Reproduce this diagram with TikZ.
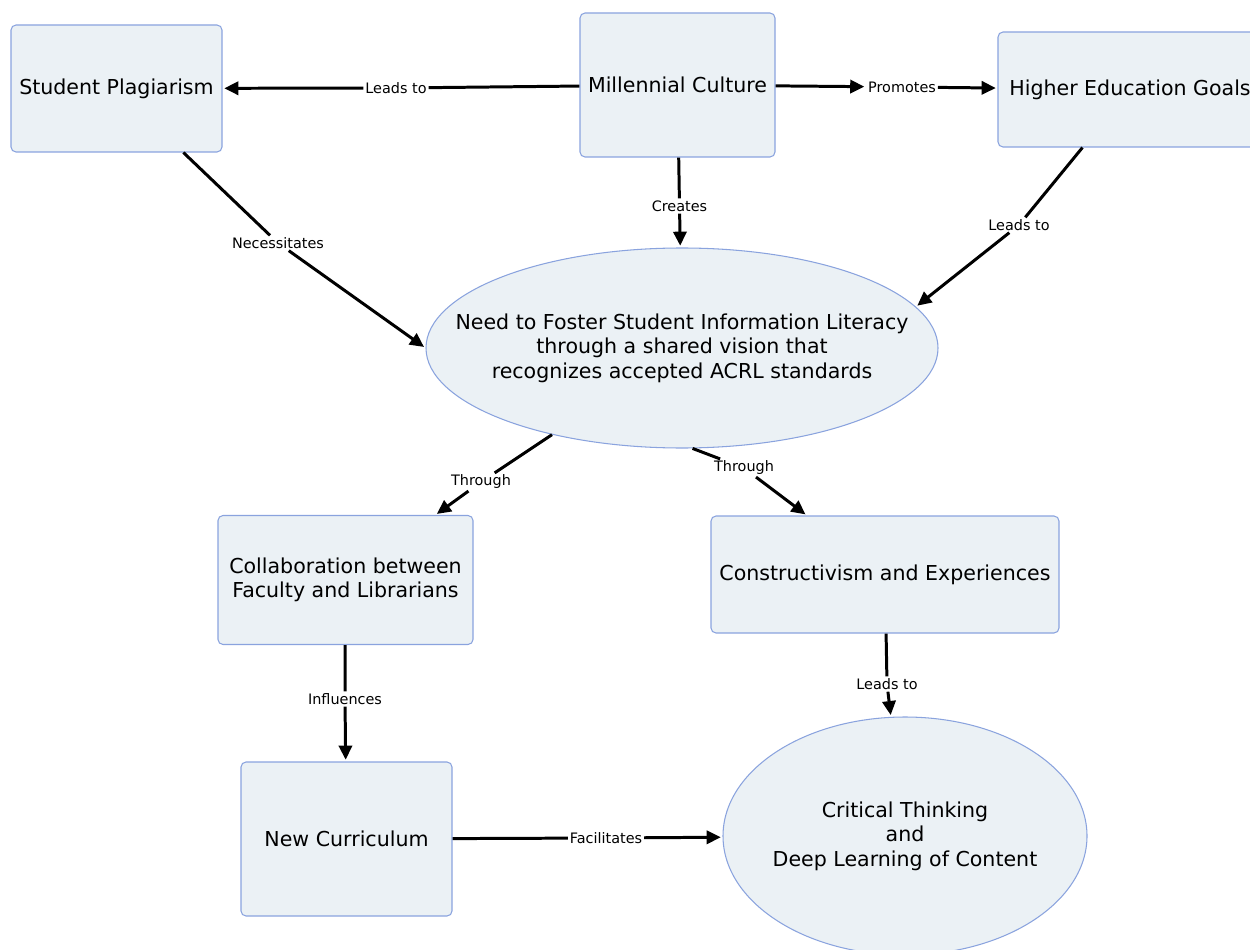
\documentclass[tikz,border=0pt]{standalone}
\usepackage{fontspec}
\setmainfont{DejaVu Sans}
\usepackage{tikz}
\usetikzlibrary{shapes,arrows.meta,positioning}
\definecolor{cmapfill}{RGB}{235,241,245}
\definecolor{cmapline}{RGB}{138,163,222}

\begin{document}
\begin{tikzpicture}[
  concept/.style={draw=cmapline, fill=cmapfill, rounded corners=0.1cm, line width=0.6pt,
    align=center, inner sep=0pt, font=\fontsize{11.7}{14}\selectfont},
  idea/.style={ellipse, draw=cmapline, fill=cmapfill, line width=0.6pt, inner sep=0pt},
  ideatext/.style={align=center, font=\fontsize{11.7}{14}\selectfont},
  linkword/.style={inner sep=1pt, font=\fontsize{8.2}{9.5}\selectfont},
  link/.style={line width=1.7pt},
  linkto/.style={line width=1.7pt, -{Triangle[length=8pt,width=7.5pt]}, shorten >=1pt}
]

\useasboundingbox (0,0) rectangle (25,18.98);

% concepts
\node [concept, minimum width=4.22cm, minimum height=2.54cm] (studplag) at (2.33,17.21) {Student Plagiarism};
\node [concept, minimum width=3.90cm, minimum height=2.88cm] (millennial) at (13.55,17.28) {Millennial Culture};
\node [concept, minimum width=5.28cm, minimum height=2.30cm] (highered) at (22.60,17.19) {Higher Education Goals};
%
\node [idea, minimum width=10.24cm, minimum height=4.0cm] (need) at (13.64,12.02) {};
\node [ideatext] (needtext) at (need) {Need to Foster Student Information Literacy\\
through a shared vision that\\
recognizes accepted ACRL standards};
%
\node [concept, minimum width=5.10cm, minimum height=2.58cm] (collab) at (6.91,7.38) {Collaboration between\\ Faculty and Librarians};
\node [concept, minimum width=6.96cm, minimum height=2.34cm] (constr) at (17.70,7.49) {Constructivism and Experiences};
\node [concept, minimum width=4.22cm, minimum height=3.08cm] (newcur) at (6.93,2.20) {New Curriculum};
%
\node [idea, minimum width=7.28cm, minimum height=4.76cm] (critical) at (18.10,2.26) {};
\node [ideatext] (criticaltext) at (critical) {Critical Thinking\\ and\\ Deep Learning of Content};

% linking words
\node [linkword] (leads1) at (7.92,17.22) {Leads to};
\node [linkword] (promotes) at (18.04,17.24) {Promotes};
\node [linkword] (creates) at (13.59,14.86) {Creates};
\node [linkword] (necess) at (5.56,14.12) {Necessitates};
\node [linkword] (leads2) at (20.38,14.48) {Leads to};
\node [linkword] (through1) at (9.62,9.34) {Through};
\node [linkword] (through2) at (14.88,9.62) {Through};
\node [linkword] (leads3) at (17.74,5.30) {Leads to};
\node [linkword] (influ) at (6.90,5.00) {Influences};
\node [linkword] (facil) at (12.12,2.22) {Facilitates};

% links
\draw [link] (millennial) -- (leads1);
\draw [linkto] (leads1) -- (studplag);
\draw [linkto] (millennial) -- (promotes);
\draw [linkto] (promotes) -- (highered);
\draw [link] (millennial) -- (creates);
\draw [linkto] (creates) -- (need);
\draw [link] (studplag) -- (necess);
\draw [linkto] (necess) -- (need.west);
\draw [link] (highered) -- (leads2);
\draw [linkto] (leads2) -- (need.10);
%
\draw [link] (need) -- (through1);
\draw [linkto] (through1) -- (collab);
\draw [link] (need.-84) -- (through2);
\draw [linkto] (through2) -- (constr);
\draw [link] (constr) -- (leads3);
\draw [linkto] (leads3) -- (critical);
\draw [link] (collab) -- (influ);
\draw [linkto] (influ) -- (newcur);
\draw [link] (newcur) -- (facil);
\draw [linkto] (facil) -- (critical);

\end{tikzpicture}
\end{document}
